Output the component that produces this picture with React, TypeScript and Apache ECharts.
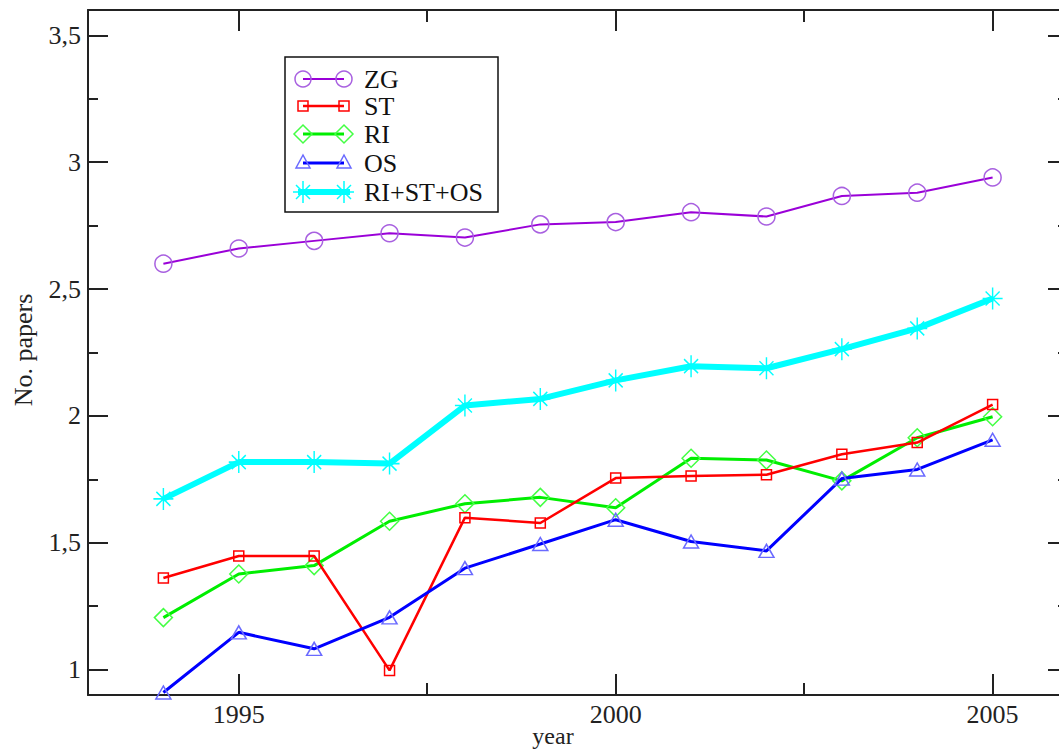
import React, { useEffect, useRef } from "react";
import * as echarts from "echarts";

const years = [1994, 1995, 1996, 1997, 1998, 1999, 2000, 2001, 2002, 2003, 2004, 2005];
const zgValues = [2.6, 2.66, 2.69, 2.72, 2.703, 2.755, 2.764, 2.803, 2.786, 2.867, 2.88, 2.94];
const stValues = [1.361, 1.448, 1.448, 0.997, 1.599, 1.578, 1.755, 1.763, 1.768, 1.849, 1.895, 2.045];
const riValues = [1.205, 1.377, 1.41, 1.585, 1.654, 1.679, 1.638, 1.833, 1.826, 1.744, 1.914, 1.997];
const osValues = [0.91, 1.147, 1.082, 1.206, 1.4, 1.495, 1.591, 1.505, 1.468, 1.753, 1.789, 1.906];
const allValues = [1.673, 1.818, 1.818, 1.812, 2.041, 2.067, 2.14, 2.196, 2.188, 2.263, 2.345, 2.463];

const seriesNames = ["ZG", "ST", "RI", "OS", "RI+ST+OS"];
const xMajorTicks = [1995, 2000, 2005];
const xMinorTicks = [1997.5, 2002.5];
const yMajorTicks = [1, 1.5, 2, 2.5, 3, 3.5];
const yMinorTicks = [1.25, 1.75, 2.25, 2.75, 3.25];

const X_MIN = 1993;
const X_MAX = 2006;
const Y_MIN = 0.9;
const Y_MAX = 3.6;

const FONT = '"Liberation Serif", "Times New Roman", serif';
const AXIS_COLOR = "#222";

const ASTERISK = "path://M10,0 L10,22 M0,11 L20,11 M3,4 L17,18 M3,18 L17,4";

function pairs(vals: number[]) {
  return years.map((y, i) => [y, vals[i]]);
}

function xAxisDef(position: "top" | "bottom", ticks: number[], len: number, showLine: boolean, showLabel: boolean) {
  return {
    type: "value",
    min: X_MIN,
    max: X_MAX,
    position,
    axisLine: { show: showLine, onZero: false, lineStyle: { color: AXIS_COLOR, width: 2 } },
    axisTick: { show: true, inside: true, length: len, customValues: ticks, lineStyle: { color: AXIS_COLOR, width: 2 } },
    axisLabel: showLabel
      ? {
          show: true,
          customValues: ticks,
          fontFamily: FONT,
          fontSize: 26,
          color: "#222",
          margin: 6,
          formatter: (v: number) => String(v),
        }
      : { show: false },
    splitLine: { show: false },
  };
}

function yAxisDef(position: "left" | "right", ticks: number[], len: number, showLine: boolean, showLabel: boolean) {
  return {
    type: "value",
    min: Y_MIN,
    max: Y_MAX,
    position,
    axisLine: { show: showLine, onZero: false, lineStyle: { color: AXIS_COLOR, width: 2 } },
    axisTick: { show: true, inside: true, length: len, customValues: ticks, lineStyle: { color: AXIS_COLOR, width: 2 } },
    axisLabel: showLabel
      ? {
          show: true,
          customValues: ticks,
          fontFamily: FONT,
          fontSize: 26,
          color: "#222",
          margin: 7,
          formatter: (v: number) => String(v).replace(".", ","),
        }
      : { show: false },
    splitLine: { show: false },
  };
}

function legendGraphic() {
  const rowsY = [79, 106, 134, 163, 192];
  const xa = 303;
  const xb = 344;
  const children: any[] = [
    {
      type: "rect",
      shape: { x: 285, y: 57, width: 213, height: 155 },
      style: { fill: "#fff", stroke: "#111", lineWidth: 1.5 },
    },
  ];
  const lineColors = ["#9a00d8", "#ff0000", "#00ee00", "#0000ff", "#00ffff"];
  const lineWidths = [2, 2.5, 3, 3, 6];
  const markColors = ["#a860e0", "#ff0000", "#44ff44", "#6a6aff", "#00ffff"];
  rowsY.forEach((y, i) => {
    children.push({
      type: "line",
      shape: { x1: i === 4 ? 298 : xa, y1: y, x2: i === 4 ? 350 : xb, y2: y },
      style: { stroke: lineColors[i], lineWidth: lineWidths[i] },
    });
    [xa, xb].forEach((cx) => {
      const st = { fill: "none", stroke: markColors[i], lineWidth: 1.5 };
      if (i === 0) children.push({ type: "circle", shape: { cx, cy: y, r: 8 }, style: st });
      if (i === 1)
        children.push({ type: "rect", shape: { x: cx - 5, y: y - 5, width: 10, height: 10 }, style: st });
      if (i === 2)
        children.push({
          type: "polygon",
          shape: { points: [[cx, y - 9], [cx + 9, y], [cx, y + 9], [cx - 9, y]] },
          style: st,
        });
      if (i === 3)
        children.push({
          type: "polygon",
          shape: { points: [[cx, y - 8], [cx + 7, y + 5], [cx - 7, y + 5]] },
          style: st,
        });
      if (i === 4) {
        const segs = [
          [cx, y - 11, cx, y + 11],
          [cx - 10, y, cx + 10, y],
          [cx - 7, y - 7, cx + 7, y + 7],
          [cx - 7, y + 7, cx + 7, y - 7],
        ];
        segs.forEach((s) =>
          children.push({
            type: "line",
            shape: { x1: s[0], y1: s[1], x2: s[2], y2: s[3] },
            style: { stroke: markColors[i], lineWidth: 1.5 },
          })
        );
      }
    });
    children.push({
      type: "text",
      style: {
        text: seriesNames[i],
        x: 364,
        y,
        font: `26px ${FONT}`,
        fill: "#111",
        verticalAlign: "middle",
        align: "left",
      },
    });
  });
  return { type: "group", children };
}

export default function App() {
  const ref = useRef<HTMLDivElement>(null);
  useEffect(() => {
    if (!ref.current) return;
    const chart = echarts.init(ref.current, null, { renderer: "svg" });
    const option: any = {
      animation: false,
      backgroundColor: "#fff",
      grid: { left: 88, top: 10, width: 980, height: 685, containLabel: false, outerBoundsMode: "none" },
      xAxis: [
        xAxisDef("bottom", xMajorTicks, 21, true, true),
        xAxisDef("bottom", xMinorTicks, 12, false, false),
        xAxisDef("top", xMajorTicks, 21, true, false),
        xAxisDef("top", xMinorTicks, 12, false, false),
      ],
      yAxis: [
        yAxisDef("left", yMajorTicks, 20, true, true),
        yAxisDef("left", yMinorTicks, 10, false, false),
        yAxisDef("right", yMajorTicks, 20, true, false),
        yAxisDef("right", yMinorTicks, 10, false, false),
      ],
      series: [
        {
          name: seriesNames[4],
          type: "line",
          data: pairs(allValues),
          symbol: ASTERISK,
          symbolSize: [20, 22],
          lineStyle: { color: "#00ffff", width: 6 },
          itemStyle: { color: "rgba(0,0,0,0)", borderColor: "#00ffff", borderWidth: 1.5 },
          z: 2,
        },
        {
          name: seriesNames[0],
          type: "line",
          data: pairs(zgValues),
          symbol: "circle",
          symbolSize: 17,
          lineStyle: { color: "#9a00d8", width: 2 },
          itemStyle: { color: "rgba(0,0,0,0)", borderColor: "#a860e0", borderWidth: 1.5 },
          z: 3,
        },
        {
          name: seriesNames[2],
          type: "line",
          data: pairs(riValues),
          symbol: "diamond",
          symbolSize: [18, 18],
          lineStyle: { color: "#00ee00", width: 3 },
          itemStyle: { color: "rgba(0,0,0,0)", borderColor: "#44ff44", borderWidth: 1.5 },
          z: 3,
        },
        {
          name: seriesNames[1],
          type: "line",
          data: pairs(stValues),
          symbol: "rect",
          symbolSize: 10,
          lineStyle: { color: "#ff0000", width: 2.5 },
          itemStyle: { color: "rgba(0,0,0,0)", borderColor: "#ff0000", borderWidth: 1.5 },
          z: 4,
        },
        {
          name: seriesNames[3],
          type: "line",
          data: pairs(osValues),
          symbol: "triangle",
          symbolSize: [15, 13],
          lineStyle: { color: "#0000ff", width: 3 },
          itemStyle: { color: "rgba(0,0,0,0)", borderColor: "#6a6aff", borderWidth: 1.5 },
          z: 5,
        },
      ],
      graphic: [
        legendGraphic(),
        {
          type: "text",
          style: {
            text: "year",
            x: 553,
            y: 736,
            font: `24px ${FONT}`,
            fill: "#222",
            align: "center",
            verticalAlign: "middle",
          },
        },
        {
          type: "text",
          rotation: Math.PI / 2,
          x: 23,
          y: 350,
          style: {
            text: "No. papers",
            x: 0,
            y: 0,
            font: `26px ${FONT}`,
            fill: "#222",
            align: "center",
            verticalAlign: "middle",
          },
        },
      ],
    };
    chart.setOption(option);
    return () => chart.dispose();
  }, []);
  return (
    <div
      ref={ref}
      style={{ position: "absolute", left: 0, top: 0, width: 1059, height: 751 }}
    />
  );
}
